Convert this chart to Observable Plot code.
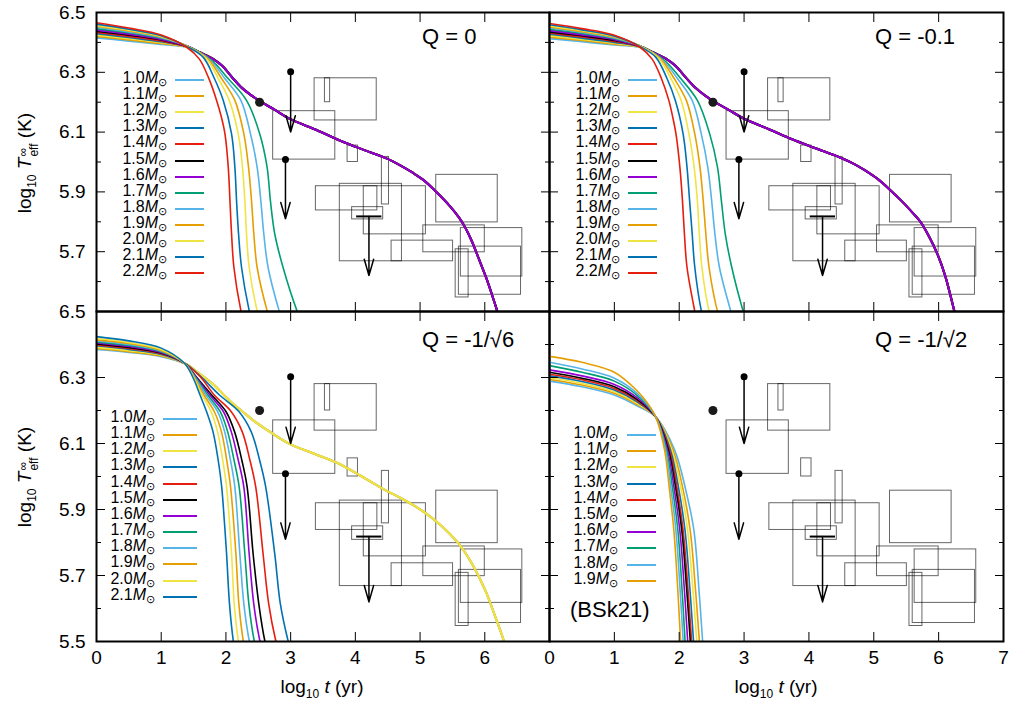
<!DOCTYPE html>
<html><head><meta charset="utf-8">
<script src="https://cdn.jsdelivr.net/npm/d3@7"></script>
<script src="https://cdn.jsdelivr.net/npm/@observablehq/plot@0.6"></script>
<style>
body{margin:0;background:#fff;font-family:"Liberation Sans",Arial,Helvetica,sans-serif;}
#chart{position:relative;width:1011px;height:706px;overflow:hidden;background:#fff;}
#chart svg{position:absolute;left:0;top:0;}
.lbl{position:absolute;white-space:nowrap;color:#000;}
.q{font-size:22px;line-height:25px;}
.ax{font-size:19px;line-height:22px;}
.ylab{transform:translate(-50%,-50%) rotate(-90deg);}
.ss{display:inline-block;vertical-align:-7px;line-height:11px;font-size:12px;text-align:left;margin-left:1px;}
.ss span{display:block;}
.sub10{font-size:12px;vertical-align:-5px;line-height:0;}
.legt{position:absolute;font-size:16px;line-height:14px;height:14px;white-space:nowrap;text-align:right;}
.legt sub{font-size:11px;vertical-align:-3px;line-height:0;}
.legl{position:absolute;height:2px;}
</style></head>
<body><div id="chart"></div>
<script>
// ---------- data ----------
const massLabels = ["1.0","1.1","1.2","1.3","1.4","1.5","1.6","1.7","1.8","1.9","2.0","2.1","2.2"];
const massColors = ["#56b4e9","#e69f00","#f0e442","#0072b2","#e51e10","#000000","#9400d3","#009e73","#56b4e9","#e69f00","#f0e442","#0072b2","#e51e10"];

const tTicks = [0,1,2,3,4,5,6,7];
const tLabelsLeft = [0,1,2,3,4,5,6];
const tLabelsRight = [0,1,2,3,4,5,6,7];
const logTMajor = [5.5,5.7,5.9,6.1,6.3,6.5];
const logTMinor = [5.6,5.8,6.0,6.2,6.4];
const logTLabelsTop = [5.7,5.9,6.1,6.3,6.5];
const logTLabelsBottom = [5.5,5.7,5.9,6.1,6.3,6.5];

// observations: [t1, t2, T1, T2]
const obsBoxes = [
 [2.73,3.69,6.008,6.17],[3.37,4.33,6.139,6.28],[3.53,3.61,6.2,6.28],[3.88,4.04,6.0,6.055],
 [4.41,4.52,5.858,6.017],[3.39,4.34,5.838,5.919],[3.76,4.72,5.668,5.927],[4.13,5.09,5.758,5.919],
 [3.95,4.43,5.808,5.849],[5.25,6.2,5.798,5.957],[4.56,5.51,5.668,5.737],[5.05,6.0,5.698,5.788],
 [5.63,6.58,5.617,5.779],[5.6,6.56,5.556,5.717],[5.55,5.75,5.547,5.708]
];
const limitArrows = [[3.0,6.302,6.1],[2.92,6.008,5.81],[4.21,5.818,5.62]]; // t, from, to
const limitDots = [[3.0,6.302],[2.92,6.008]];
const limitBars = [[4.02,4.41,5.818]];
const obsPoint = [[2.52,6.2]];

// Q = 0
const q0Heads = [
 [[0,6.416],[0.5,6.405],[1.0,6.394],[1.4,6.384]],
 [[0,6.421],[0.5,6.409],[1.0,6.397],[1.4,6.385]],
 [[0,6.425],[0.5,6.413],[1.0,6.400],[1.4,6.385]],
 [[0,6.430],[0.5,6.417],[1.0,6.403],[1.4,6.386]],
 [[0,6.434],[0.5,6.421],[1.0,6.406],[1.4,6.386]],
 [[0,6.438],[0.5,6.425],[1.0,6.409],[1.4,6.387]],
 [[0,6.442],[0.5,6.428],[1.0,6.411],[1.4,6.387]],
 [[0,6.446],[0.5,6.432],[1.0,6.414],[1.4,6.388]],
 [[0,6.450],[0.5,6.435],[1.0,6.416],[1.4,6.388]],
 [[0,6.454],[0.5,6.438],[1.0,6.418],[1.4,6.388]],
 [[0,6.457],[0.5,6.441],[1.0,6.420],[1.4,6.387]],
 [[0,6.461],[0.5,6.444],[1.0,6.422],[1.4,6.386]],
 [[0,6.466],[0.5,6.448],[1.0,6.425],[1.4,6.383]]
];
const q0SlowTail = [[1.6,6.366],[1.8,6.345],[1.95,6.32],[2.1,6.282],[2.25,6.247],[2.4,6.222],[2.55,6.2],[2.75,6.175],[2.98,6.145],[3.4,6.107],[3.75,6.073],[4.1,6.043],[4.48,6.012],[4.7,5.988],[4.88,5.965],[5.05,5.94],[5.24,5.902],[5.45,5.855],[5.6,5.815],[5.7,5.78],[5.8,5.735],[5.91,5.675],[6.02,5.614],[6.11,5.557],[6.19,5.503],[6.26,5.45]];
const q0FastTails = [
 [[1.78,6.34],[2.03,6.28],[2.318,6.206],[2.523,6.094],[2.636,5.983],[2.687,5.871],[2.754,5.76],[2.882,5.648],[3.097,5.503],[3.2,5.45]],
 [[1.75,6.342],[1.98,6.28],[2.231,6.206],[2.38,6.094],[2.482,5.983],[2.539,5.871],[2.585,5.76],[2.651,5.648],[2.821,5.503],[2.9,5.45]],
 [[1.72,6.345],[1.93,6.28],[2.138,6.206],[2.277,6.094],[2.349,5.983],[2.395,5.871],[2.431,5.76],[2.482,5.648],[2.636,5.503],[2.7,5.46]],
 [[1.7,6.345],[1.88,6.28],[2.051,6.206],[2.19,6.094],[2.256,5.983],[2.292,5.871],[2.318,5.76],[2.359,5.648],[2.482,5.503],[2.54,5.46]],
 [[1.65,6.35],[1.82,6.28],[1.959,6.206],[2.087,6.094],[2.138,5.983],[2.164,5.871],[2.195,5.76],[2.241,5.648],[2.359,5.503],[2.41,5.46]],
 [[1.59,6.344],[1.74,6.277],[1.856,6.206],[1.93,6.15],[1.985,6.094],[2.036,5.983],[2.062,5.871],[2.087,5.76],[2.123,5.648],[2.231,5.503],[2.28,5.46]]
];

// Q = -0.1
const q1Heads = [
 [[0,6.413],[0.5,6.403],[1.0,6.392],[1.4,6.384]],
 [[0,6.418],[0.5,6.407],[1.0,6.395],[1.4,6.385]],
 [[0,6.423],[0.5,6.411],[1.0,6.398],[1.4,6.385]],
 [[0,6.428],[0.5,6.415],[1.0,6.401],[1.4,6.386]],
 [[0,6.432],[0.5,6.419],[1.0,6.404],[1.4,6.386]],
 [[0,6.436],[0.5,6.423],[1.0,6.407],[1.4,6.387]],
 [[0,6.440],[0.5,6.426],[1.0,6.410],[1.4,6.387]],
 [[0,6.444],[0.5,6.430],[1.0,6.413],[1.4,6.388]],
 [[0,6.448],[0.5,6.433],[1.0,6.415],[1.4,6.388]],
 [[0,6.452],[0.5,6.436],[1.0,6.417],[1.4,6.388]],
 [[0,6.455],[0.5,6.439],[1.0,6.419],[1.4,6.387]],
 [[0,6.459],[0.5,6.442],[1.0,6.421],[1.4,6.386]],
 [[0,6.463],[0.5,6.446],[1.0,6.424],[1.4,6.383]]
];
const q1SlowTail = [[1.6,6.366],[1.8,6.345],[1.95,6.32],[2.1,6.283],[2.25,6.248],[2.4,6.222],[2.55,6.2],[2.75,6.176],[2.98,6.147],[3.4,6.108],[3.75,6.075],[4.1,6.046],[4.48,6.015],[4.7,5.993],[4.88,5.97],[5.05,5.945],[5.26,5.905],[5.45,5.865],[5.6,5.83],[5.72,5.8],[5.85,5.752],[5.98,5.693],[6.1,5.62],[6.24,5.503],[6.3,5.45]];
const q1FastTails = [
 [[1.77,6.34],[2.02,6.28],[2.28,6.206],[2.47,6.094],[2.59,5.983],[2.65,5.871],[2.71,5.76],[2.81,5.648],[2.983,5.503],[3.06,5.45]],
 [[1.74,6.342],[1.97,6.28],[2.2,6.206],[2.34,6.094],[2.44,5.983],[2.5,5.871],[2.55,5.76],[2.62,5.648],[2.793,5.503],[2.87,5.45]],
 [[1.71,6.345],[1.92,6.28],[2.11,6.206],[2.24,6.094],[2.32,5.983],[2.37,5.871],[2.41,5.76],[2.46,5.648],[2.587,5.503],[2.65,5.46]],
 [[1.69,6.345],[1.87,6.28],[2.03,6.206],[2.15,6.094],[2.23,5.983],[2.28,5.871],[2.31,5.76],[2.35,5.648],[2.459,5.503],[2.52,5.46]],
 [[1.64,6.35],[1.81,6.28],[1.94,6.206],[2.06,6.094],[2.12,5.983],[2.16,5.871],[2.2,5.76],[2.24,5.648],[2.34,5.503],[2.39,5.46]],
 [[1.58,6.345],[1.73,6.277],[1.84,6.206],[1.9,6.15],[1.95,6.094],[2.01,5.983],[2.05,5.871],[2.08,5.76],[2.12,5.648],[2.238,5.503],[2.28,5.46]]
];

// Q = -1/sqrt(6)  (masses 1.0 - 2.1)
const q6Heads = [
 [[0,6.386],[0.5,6.377],[1.0,6.364],[1.36,6.343]],
 [[0,6.389],[0.5,6.379],[1.0,6.366],[1.36,6.343]],
 [[0,6.392],[0.5,6.382],[1.0,6.368],[1.36,6.343]],
 [[0,6.396],[0.5,6.385],[1.0,6.370],[1.36,6.343]],
 [[0,6.399],[0.5,6.388],[1.0,6.372],[1.36,6.343]],
 [[0,6.402],[0.5,6.391],[1.0,6.374],[1.36,6.343]],
 [[0,6.405],[0.5,6.394],[1.0,6.376],[1.36,6.343]],
 [[0,6.408],[0.5,6.397],[1.0,6.378],[1.36,6.343]],
 [[0,6.411],[0.5,6.400],[1.0,6.380],[1.36,6.343]],
 [[0,6.414],[0.5,6.403],[1.0,6.382],[1.36,6.343]],
 [[0,6.418],[0.5,6.406],[1.0,6.385],[1.36,6.343]],
 [[0,6.424],[0.5,6.411],[1.0,6.389],[1.36,6.343]]
];
const q6SlowTail = [[1.6,6.31],[1.8,6.28],[1.97,6.247],[2.1,6.222],[2.256,6.197],[2.47,6.163],[2.728,6.129],[2.985,6.099],[3.4,6.066],[3.754,6.038],[4.1,6.0],[4.471,5.958],[4.7,5.935],[4.882,5.915],[5.1,5.887],[5.292,5.857],[5.45,5.828],[5.6,5.796],[5.805,5.735],[6.01,5.654],[6.164,5.574],[6.292,5.503],[6.35,5.46]];
const q6FastTails = [
 [[1.6,6.305],[1.9,6.247],[2.2,6.197],[2.39,6.136],[2.52,6.05],[2.615,5.968],[2.754,5.766],[2.841,5.614],[2.959,5.503],[3.02,5.46]],
 [[1.6,6.303],[1.82,6.247],[2.08,6.197],[2.251,6.136],[2.37,6.05],[2.461,5.968],[2.574,5.766],[2.661,5.614],[2.769,5.503],[2.83,5.46]],
 [[1.55,6.3],[1.78,6.247],[2.0,6.197],[2.133,6.136],[2.245,6.05],[2.328,5.968],[2.42,5.766],[2.508,5.614],[2.6,5.503],[2.66,5.46]],
 [[1.54,6.3],[1.75,6.247],[1.96,6.197],[2.082,6.136],[2.19,6.05],[2.277,5.968],[2.359,5.766],[2.43,5.614],[2.523,5.503],[2.58,5.46]],
 [[1.53,6.3],[1.72,6.247],[1.91,6.197],[2.026,6.136],[2.125,6.05],[2.205,5.968],[2.292,5.766],[2.354,5.614],[2.436,5.503],[2.49,5.46]],
 [[1.52,6.3],[1.69,6.247],[1.87,6.197],[1.98,6.136],[2.07,6.05],[2.138,5.968],[2.215,5.766],[2.277,5.614],[2.359,5.503],[2.41,5.46]],
 [[1.51,6.3],[1.66,6.247],[1.82,6.197],[1.93,6.136],[2.012,6.05],[2.072,5.968],[2.154,5.766],[2.2,5.614],[2.267,5.503],[2.31,5.46]],
 [[1.5,6.3],[1.63,6.247],[1.77,6.197],[1.87,6.136],[1.95,6.05],[2.01,5.968],[2.087,5.766],[2.128,5.614],[2.19,5.503],[2.23,5.46]],
 [[1.49,6.3],[1.6,6.247],[1.7,6.197],[1.8,6.136],[1.88,6.05],[1.935,5.968],[1.975,5.866],[2.01,5.766],[2.055,5.614],[2.113,5.503],[2.15,5.46]]
];

// Q = -1/sqrt(2), BSk21 (masses 1.0 - 1.9)
const q2Curves = [
 [[0,6.289],[0.5,6.272],[1.0,6.247],[1.35,6.214],[1.64,6.18],[1.93,6.08],[2.1,5.96],[2.227,5.836],[2.307,5.65],[2.36,5.503],[2.38,5.44]],
 [[0,6.294],[0.5,6.277],[1.0,6.252],[1.35,6.218],[1.64,6.18],[1.905,6.08],[2.06,5.96],[2.17,5.836],[2.254,5.65],[2.31,5.503],[2.33,5.44]],
 [[0,6.299],[0.5,6.282],[1.0,6.257],[1.35,6.222],[1.64,6.18],[1.885,6.08],[2.03,5.96],[2.13,5.836],[2.214,5.65],[2.27,5.503],[2.29,5.44]],
 [[0,6.305],[0.5,6.288],[1.0,6.262],[1.35,6.226],[1.64,6.18],[1.865,6.08],[1.995,5.96],[2.09,5.836],[2.168,5.65],[2.22,5.503],[2.24,5.44]],
 [[0,6.310],[0.5,6.293],[1.0,6.267],[1.35,6.23],[1.64,6.18],[1.85,6.08],[1.97,5.96],[2.06,5.836],[2.138,5.65],[2.19,5.503],[2.21,5.44]],
 [[0,6.316],[0.5,6.298],[1.0,6.272],[1.35,6.234],[1.64,6.18],[1.835,6.08],[1.95,5.96],[2.04,5.836],[2.118,5.65],[2.17,5.503],[2.19,5.44]],
 [[0,6.323],[0.5,6.305],[1.0,6.279],[1.35,6.239],[1.64,6.18],[1.82,6.08],[1.925,5.96],[2.01,5.836],[2.082,5.65],[2.13,5.503],[2.15,5.44]],
 [[0,6.336],[0.5,6.316],[1.0,6.289],[1.35,6.246],[1.64,6.18],[1.805,6.08],[1.9,5.96],[1.98,5.836],[2.046,5.65],[2.09,5.503],[2.11,5.44]],
 [[0,6.346],[0.5,6.326],[1.0,6.298],[1.35,6.252],[1.64,6.18],[1.79,6.08],[1.875,5.96],[1.95,5.836],[2.016,5.65],[2.06,5.503],[2.08,5.44]],
 [[0,6.364],[0.5,6.346],[1.0,6.316],[1.35,6.26],[1.5,6.225],[1.64,6.18],[1.775,6.08],[1.85,5.96],[1.918,5.836],[1.98,5.65],[2.02,5.503],[2.04,5.44]]
];

// ---------- assemble rows ----------
function toRows(curves, nSlow){
  const rows=[];
  curves.forEach((pts,i)=>pts.forEach(p=>rows.push({m:massLabels[i],c:massColors[i],w:i<nSlow?2.1:1.6,t:p[0],T:p[1]})));
  return rows;
}
function compose(heads, slowTail, fastTails, nSlow){
  return heads.map((h,i)=> i<nSlow ? h.concat(slowTail) : h.concat(fastTails[i-nSlow]));
}
const panels = [
  {curves: compose(q0Heads,q0SlowTail,q0FastTails,7), nSlow:7, ml:96, mr:462, mt:12, mb:395, yLab:logTLabelsTop, xLab:null},
  {curves: compose(q1Heads,q1SlowTail,q1FastTails,7), nSlow:7, ml:549, mr:8, mt:12, mb:395, yLab:null, xLab:null},
  {curves: compose(q6Heads,q6SlowTail,q6FastTails,3), nSlow:3, ml:96, mr:462, mt:311, mb:65, yLab:logTLabelsBottom, xLab:tLabelsLeft},
  {curves: q2Curves, nSlow:0, ml:549, mr:8, mt:311, mb:65, yLab:null, xLab:tLabelsRight}
];

const chart = document.getElementById("chart");
const blank = () => "";
for (const p of panels){
  const marks = [
    Plot.rect(obsBoxes,{x1:d=>d[0],x2:d=>d[1],y1:d=>d[2],y2:d=>d[3],fill:"none",stroke:"#000",strokeOpacity:0.6,strokeWidth:1}),
    Plot.line(toRows(p.curves,p.nSlow),{x:"t",y:"T",z:"m",stroke:"c",strokeWidth:"w",curve:"catmull-rom",clip:true}),
    Plot.arrow(limitArrows,{x1:d=>d[0],x2:d=>d[0],y1:d=>d[1],y2:d=>d[2],stroke:"#000",strokeWidth:1.5,headLength:17,headAngle:32}),
    Plot.dot(limitDots,{x:d=>d[0],y:d=>d[1],r:3.5,fill:"#000",stroke:null}),
    Plot.ruleY(limitBars,{x1:d=>d[0],x2:d=>d[1],y:d=>d[2],stroke:"#000",strokeWidth:2}),
    Plot.dot(obsPoint,{x:d=>d[0],y:d=>d[1],r:4.5,fill:"#1a1a1a",stroke:null}),
    Plot.axisY(logTMajor,{anchor:"left",tickSize:-9,tickFormat:blank,label:null}),
    Plot.axisY(logTMajor,{anchor:"right",tickSize:-9,tickFormat:blank,label:null}),
    Plot.axisY(logTMinor,{anchor:"left",tickSize:-5,tickFormat:blank,label:null}),
    Plot.axisY(logTMinor,{anchor:"right",tickSize:-5,tickFormat:blank,label:null}),
    Plot.axisX(tTicks,{anchor:"bottom",tickSize:-9,tickFormat:blank,label:null}),
    Plot.axisX(tTicks,{anchor:"top",tickSize:-9,tickFormat:blank,label:null}),
    Plot.frame({stroke:"#000",strokeWidth:2})
  ];
  if (p.yLab) marks.push(Plot.axisY(p.yLab,{anchor:"left",tickSize:0,tickPadding:11,tickFormat:d=>d.toFixed(1),fontSize:19,label:null}));
  if (p.xLab) marks.push(Plot.axisX(p.xLab,{anchor:"bottom",tickSize:0,tickPadding:9,tickFormat:d=>String(d),fontSize:19,label:null}));
  const svg = Plot.plot({
    width:1011, height:706,
    marginLeft:p.ml, marginRight:p.mr, marginTop:p.mt, marginBottom:p.mb,
    x:{domain:[0,7],label:null},
    y:{domain:[5.5,6.5],label:null},
    color:{type:"identity"},
    style:{background:"transparent",fontFamily:"'Liberation Sans',Arial,Helvetica,sans-serif",fontSize:"19px",color:"#000"},
    marks
  });
  chart.appendChild(svg);
}

// ---------- text overlays ----------
function addDiv(cls, html, css){
  const d=document.createElement("div");
  d.className="lbl "+cls; d.innerHTML=html; Object.assign(d.style,css); chart.appendChild(d); return d;
}
const qLabels = [["Q = 0",422,24],["Q = -0.1",875,24],["Q = -1/√6",422,327],["Q = -1/√2",875,327]];
qLabels.forEach(([s,x,y])=>addDiv("q",s,{left:x+"px",top:y+"px"}));
addDiv("q","(BSk21)",{left:"570px",top:"597px"});

const yLabHTML = 'log<span class="sub10">10</span> <i>T</i><span class="ss"><span>∞</span><span>eff</span></span> (K)';
addDiv("ax ylab",yLabHTML,{left:"27px",top:"163px"});
addDiv("ax ylab",yLabHTML,{left:"27px",top:"477px"});
const xLabHTML = 'log<span class="sub10">10</span> <i>t</i> (yr)';
addDiv("ax",xLabHTML,{left:"322px",top:"676px",transform:"translateX(-50%)"});
addDiv("ax",xLabHTML,{left:"776px",top:"676px",transform:"translateX(-50%)"});

// legends
const legends = [
  {n:13,textRight:167,x1:175,x2:204,y0:80,dy:16.1},
  {n:13,textRight:620,x1:628,x2:657,y0:80,dy:16.1},
  {n:12,textRight:155,x1:163,x2:197,y0:419,dy:16.15},
  {n:10,textRight:618,x1:627,x2:656,y0:435,dy:16.2}
];
legends.forEach(L=>{
  for(let k=0;k<L.n;k++){
    const y=L.y0+k*L.dy;
    const t=document.createElement("div");
    t.className="legt";
    t.innerHTML=massLabels[k]+'<i>M</i><sub>⊙</sub>';
    t.style.right=(1011-L.textRight)+"px"; t.style.top=(y-9)+"px";
    chart.appendChild(t);
    const l=document.createElement("div");
    l.className="legl";
    l.style.left=L.x1+"px"; l.style.width=(L.x2-L.x1)+"px"; l.style.top=(y-1)+"px"; l.style.background=massColors[k];
    chart.appendChild(l);
  }
});
</script></body></html>
